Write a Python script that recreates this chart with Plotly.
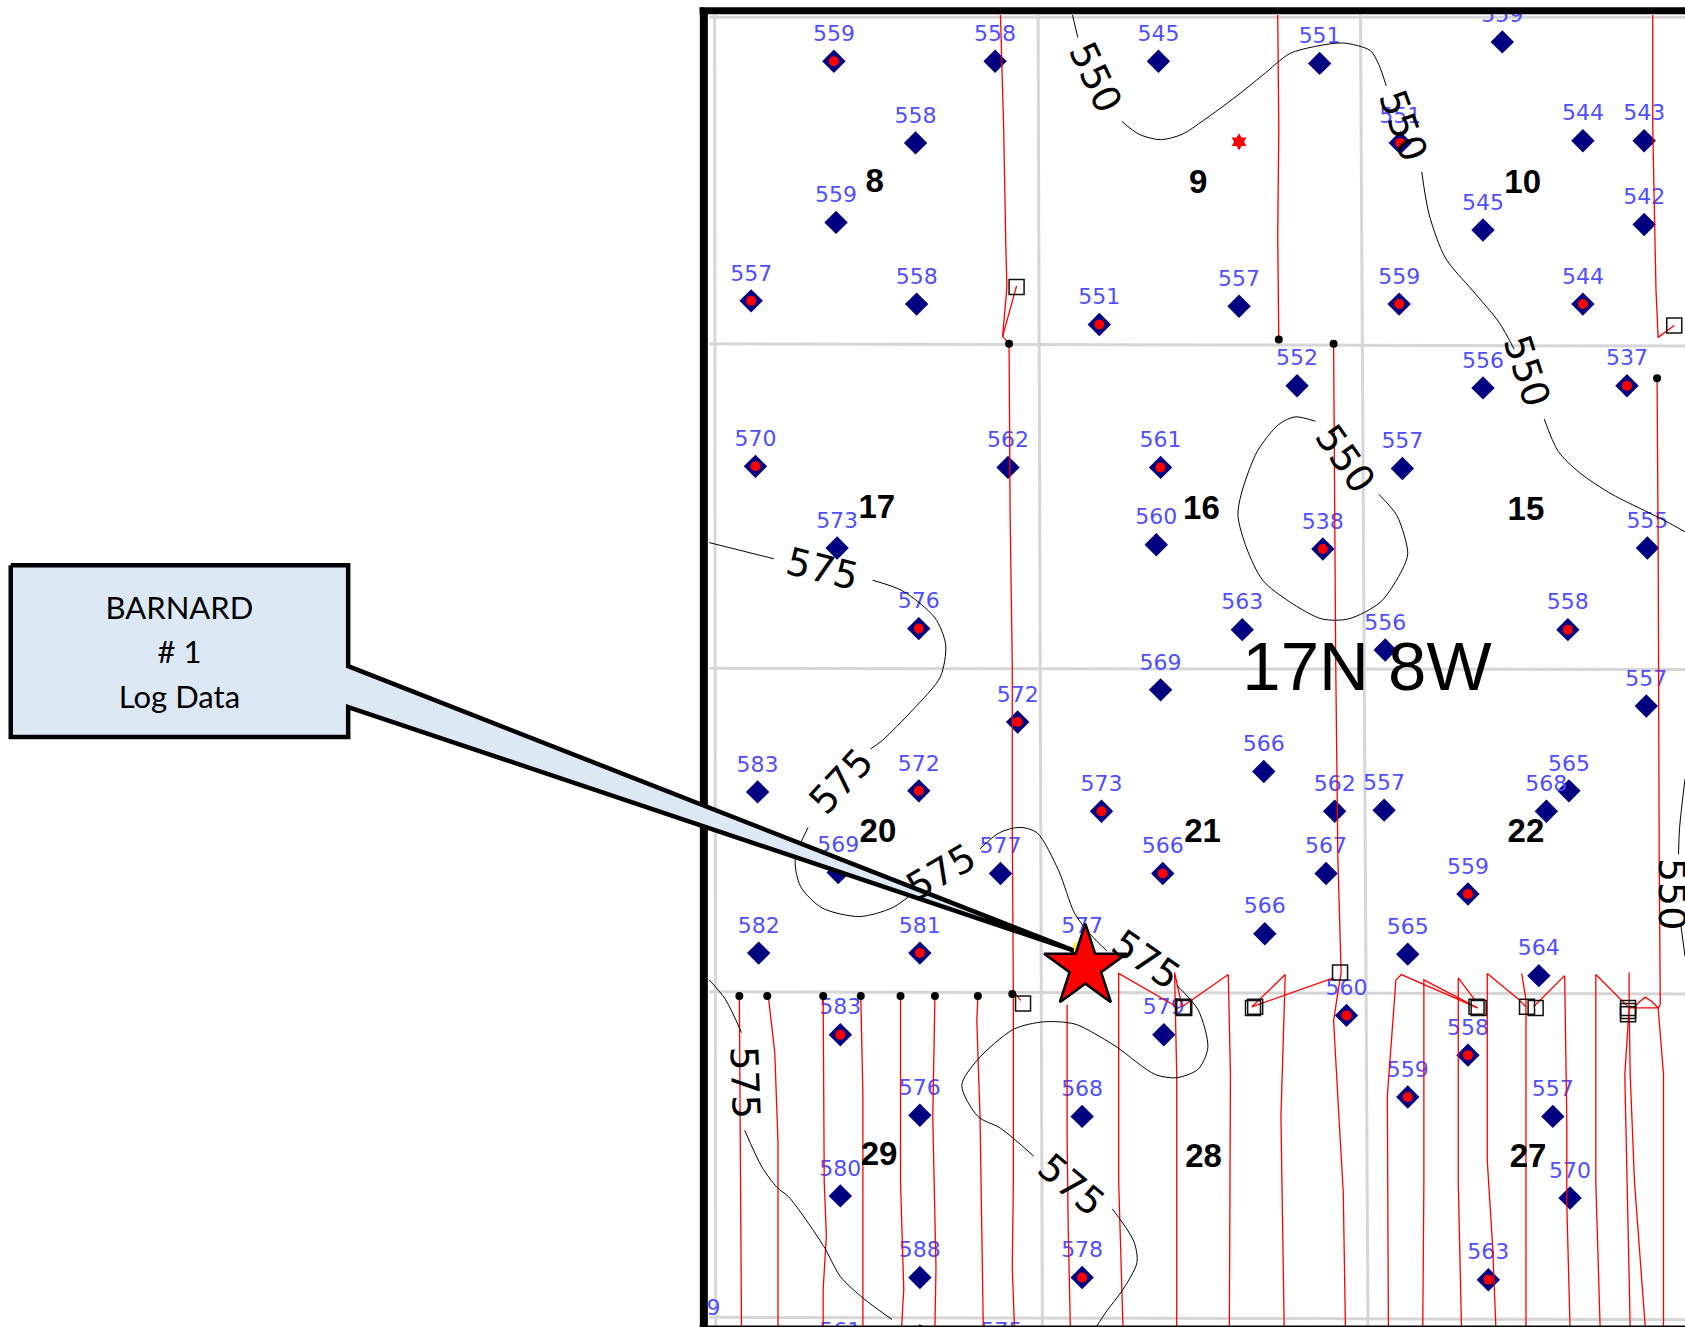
import plotly.graph_objects as go

# Wells: map position (in map units), label, and whether the well has a red centre
WELL_X = [776,926,1078,1228,1398,852,1303,1473,1530,778,1380,1530,699,853,1023,1153,1302,1473,1207,1380,1514,
          703,938,1080,1305,779,1076,1231,1533,855,1156,1289,1459,1080,1532,947,1176,705,855,1025,1242,1288,
          1439,1460,931,780,1082,1234,1366,1177,706,856,1007,1310,1432,782,1083,1253,1366,1310,856,1007,1445,
          782,1461,856,1007,1385,782,932]
WELL_Y = [57,57,57,59,39,133,133,131,131,207,214,209,280,283,302,285,283,283,359,361,359,
          434,435,435,436,510,507,511,510,585,586,605,586,642,657,672,718,737,736,755,755,754,
          755,736,813,812,813,813,832,869,887,887,887,888,908,963,963,945,982,1021,1038,1039,1039,
          1113,1115,1189,1189,1191,1264,1264]
WELL_VALUE = ["559","558","545","551","559","558","551","544","543","559","545","542","557","558","551","557","559","544","552","556","537",
              "570","562","561","557","573","560","538","555","576","563","556","558","569","557","572","566","583","572","573","562","557",
              "568","565","577","569","566","567","559","566","582","581","577","565","564","583","579","560","558","559","576","568","557",
              "580","570","588","578","563","561","575"]
WELL_SHOW = [1,0,0,0,0,0,1,0,0,0,0,0,1,0,1,0,1,1,0,0,1,
             1,0,1,0,0,0,1,0,1,0,0,1,0,0,1,0,0,1,1,0,0,
             0,0,0,0,1,0,1,0,0,1,0,0,0,1,0,1,1,1,0,0,0,
             0,0,0,1,1,0,0]

SECTION_X = [814,1115,1417,816,1118,1420,817,1119,1420,818,1120,1422]
SECTION_Y = [168,169,169,471,472,473,773,773,773,1074,1075,1075]
SECTION_NAME = ["8","9","10","17","16","15","20","21","22","29","28","27"]

GRID_LINES = [
    [(665,14),(666,1235)], [(966,14),(970,1235)], [(1266,14),(1273,1235)],
    [(660,16),(1568,16)], [(660,320),(1568,322)], [(660,622),(1568,623)],
    [(660,923),(1568,925)], [(660,1226),(1568,1228)],
]

RED_PATHS = [
    [(931,14),(934,120),(936,230),(937,267),(933,313),(939,320),(940,480),(942,620),(942,770),(943,925),(943,1100),(942,1180),(944,1235)],
    [(946,266),(933,313)], [(943,923),(950,931)],
    [(1189,14),(1190,120),(1189,220),(1190,316)],
    [(1241,320),(1243,620),(1245,800),(1248,905),(1244,930),(1241,950),(1246,1040),(1250,1110),(1252,1235)],
    [(1538,14),(1538,120),(1541,270),(1543,314),(1558,303)],
    [(1542,352),(1543,500),(1544,800),(1545,935)],
    [(688,927),(689,1100),(690,1235)], [(715,927),(721,980),(724,1064),(724,1235)],
    [(766,927),(767,1100),(769,1150),(766,1200),(766,1235)],
    [(801,927),(803,1020),(803,1235)], [(838,927),(838,1100),(841,1200),(839,1235)],
    [(870,927),(868,1040),(871,1180),(870,1235)],
    [(910,927),(909,950),(912,1040),(913,1120),(915,1235)],
    [(993,935),(993,1060),(994,1140),(996,1235)],
    [(1095,937),(1041,906),(1041,1100),(1045,1235)],
    [(1100,937),(1093,905),(1095,1000),(1095,1235)],
    [(1100,937),(1143,907),(1145,1000),(1144,1235)],
    [(1165,937),(1196,907),(1192,1040),(1195,1235)],
    [(1165,937),(1241,910)],
    [(1375,938),(1304,907),(1299,912),(1291,1020),(1292,1235)],
    [(1375,938),(1325,912),(1325,1100),(1324,1235)],
    [(1372,930),(1357,910),(1357,1100),(1360,1235)],
    [(1420,937),(1413,930),(1384,906),(1384,1080),(1389,1160),(1392,1235)],
    [(1416,906),(1420,930),(1420,1100),(1420,1235)],
    [(1427,937),(1456,908),(1458,1040),(1458,1120),(1461,1235)],
    [(1516,938),(1485,907),(1485,1100),(1489,1235)],
    [(1516,905),(1516,938),(1512,1000),(1517,1235)],
    [(1516,938),(1517,1000),(1521,1100),(1531,1235)],
    [(1516,938),(1543,938),(1545,935)],
    [(1520,938),(1526,932),(1531,928),(1537,932),(1543,938),(1548,1000),(1548,1235)],
]
DOT_X = [939,1190,1241,1542,688,714,766,801,838,870,910,942]
DOT_Y = [320,316,320,352,927,927,927,927,927,927,927,925]
BOX_X = [946,1558,952,1101,1102,1166,1168,1247,1374,1376,1421,1429,1515,1515,1515]
BOX_Y = [267,303,934,937,938,938,937,905,937,938,937,938,938,941,944]

CONTOURS = [
    [(998,14),(1003,35)],
    [(1044,113),(1060,125),(1080,130),(1100,125),(1120,112),(1150,90),(1175,70),(1200,50),(1225,43),(1250,40),(1275,47),(1283,60),(1290,80)],
    [(1323,160),(1330,200),(1345,240),(1370,270),(1395,300),(1409,325)],
    [(1437,390),(1450,420),(1470,440),(1500,460),(1530,475),(1550,485),(1568,495)],
    [(1224,392),(1205,388),(1190,395),(1170,420),(1155,460),(1152,480),(1160,510),(1175,540),(1200,560),(1230,576),(1255,576),(1285,560),(1305,530),(1310,515),(1300,480),(1283,460)],
    [(660,505),(720,520)],
    [(812,540),(840,550),(870,575),(880,600),(875,630),(850,660),(820,690),(810,697)],
    [(752,770),(740,800),(745,825),(765,845),(800,853),(830,845),(845,835)],
    [(912,790),(930,775),(949,770),(965,775),(985,810),(1000,850),(1015,870),(1030,885)],
    [(1095,917),(1115,940),(1124,975),(1115,995),(1095,1003),(1075,1000),(1040,975),(1024,965),(1000,953),(971,951),(943,958),(910,986),(895,1010),(910,1039),(931,1050),(962,1076)],
    [(1035,1125),(1055,1155),(1058,1175),(1045,1200),(1030,1220),(1020,1235)],
    [(660,912),(675,930),(690,961)],
    [(693,1052),(709,1086),(723,1105),(734,1114),(766,1159),(782,1188),(803,1208),(830,1228)],
    [(1568,725),(1563,770),(1562,795)],
    [(1564,860),(1568,890)],
]
CONTOUR_LABEL_X = [1019,1306,1421,1252,765,783,876,1067,997,693,1556]
CONTOUR_LABEL_Y = [72,117,345,427,530,727,812,893,1103,1008,832]
CONTOUR_LABEL_TEXT = ["550","550","550","550","575","575","575","575","575","575","550"]
CONTOUR_LABEL_ANGLE = [65,70,72,55,14,-47,-30,35,40,88,90]

CALLOUT_X = [10,324,324,1000,324,324,10,10]
CALLOUT_Y = [526,526,620,885,658,686,686,526]
CALLOUT_TEXT = ["BARNARD","# 1","Log Data"]
CALLOUT_TEXT_Y = [569,610,652]

TOWNSHIP = "17N 8W"
INK = "#000000"
NAVY = "#000080"
BLUE = "#4f4fff"
RED = "#ff0000"

fig = go.Figure()

def add_paths(paths, color, width, name, shape="linear", smoothing=1.0):
    xs, ys = [], []
    for p in paths:
        xs += [q[0] for q in p] + [None]
        ys += [q[1] for q in p] + [None]
    line = dict(color=color, width=width, shape=shape)
    if shape == "spline":
        line["smoothing"] = smoothing
    fig.add_trace(go.Scatter(x=xs, y=ys, mode="lines", name=name, line=line, hoverinfo="skip"))

add_paths(GRID_LINES, "#d6d6d6", 3, "sections")

fig.add_trace(go.Scatter(x=WELL_X, y=WELL_Y, mode="markers", name="wells",
                         marker=dict(symbol="diamond", size=18, color=NAVY)))
fig.add_trace(go.Scatter(x=WELL_X, y=[v - 24 for v in WELL_Y], mode="text", text=WELL_VALUE, name="values",
                         textfont=dict(family="DejaVu Sans", size=22, color=BLUE)))
fig.add_trace(go.Scatter(x=[x for x, s in zip(WELL_X, WELL_SHOW) if s], y=[y for y, s in zip(WELL_Y, WELL_SHOW) if s],
                         mode="markers", name="shows", marker=dict(symbol="circle", size=10, color=RED)))
fig.add_trace(go.Scatter(x=[664], y=[1219], mode="text", text=["9"], name="edge",
                         textfont=dict(family="DejaVu Sans", size=22, color=BLUE)))

add_paths(RED_PATHS, RED, 1.3, "paths")
fig.add_trace(go.Scatter(x=DOT_X, y=DOT_Y, mode="markers", name="heads", marker=dict(symbol="circle", size=8, color=INK)))
fig.add_trace(go.Scatter(x=BOX_X, y=BOX_Y, mode="markers", name="toes",
                         marker=dict(symbol="square-open", size=15, color="#111111", line=dict(width=1.5))))
fig.add_trace(go.Scatter(x=[1153], y=[132], mode="markers", name="spot",
                         marker=dict(symbol="hexagram", size=13, color=RED)))

add_paths(CONTOURS, INK, 1, "contours", shape="spline", smoothing=0.8)

fig.add_trace(go.Scatter(x=SECTION_X, y=[v + 3 for v in SECTION_Y], mode="text", text=SECTION_NAME, name="sections no",
                         textfont=dict(family="Liberation Sans", size=33, color=INK, weight="bold")))
fig.add_trace(go.Scatter(x=[1272], y=[626], mode="text", text=[TOWNSHIP], name="township",
                         textfont=dict(family="Liberation Sans", size=69, color=INK)))

fig.add_trace(go.Scatter(x=CALLOUT_X, y=CALLOUT_Y, mode="lines", fill="toself", fillcolor="#dde8f5", name="callout",
                         line=dict(color=INK, width=4.5), hoverinfo="skip"))
fig.add_trace(go.Scatter(x=[167, 167, 167], y=CALLOUT_TEXT_Y, mode="text", text=CALLOUT_TEXT, name="callout text",
                         textfont=dict(family="Lato", size=31, color=INK)))
fig.add_trace(go.Scatter(x=[1004], y=[882], mode="markers", name="spot2", marker=dict(symbol="square", size=10, color="#ffff00")))
fig.add_trace(go.Scatter(x=[1010], y=[900], mode="markers", name="well of interest",
                         marker=dict(symbol="star", size=62, color=RED, line=dict(color=INK, width=2.5))))

annotations = [dict(x=x, y=y, xref="x", yref="y", text=t, textangle=a, showarrow=False,
                    font=dict(family="DejaVu Sans", size=38, color=INK))
               for x, y, t, a in zip(CONTOUR_LABEL_X, CONTOUR_LABEL_Y, CONTOUR_LABEL_TEXT, CONTOUR_LABEL_ANGLE)]
annotations.append(dict(x=855, y=1222, xref="x", yref="y", text="5", textangle=30, showarrow=False, yanchor="top",
                        font=dict(family="DejaVu Sans", size=38, color=INK)))

shapes = [
    dict(type="rect", xref="x", yref="y", x0=655, x1=1568, y0=0, y1=13, fillcolor="#ffffff", line=dict(width=0), layer="above"),
    dict(type="line", xref="x", yref="y", x0=651, x1=1568, y0=10, y1=10, line=dict(color=INK, width=7), layer="above"),
    dict(type="line", xref="x", yref="y", x0=655, x1=655, y0=7, y1=1235, line=dict(color=INK, width=8), layer="below"),
    dict(type="line", xref="x", yref="y", x0=651, x1=1568, y0=1234.6, y1=1234.6, line=dict(color=INK, width=2), layer="above"),
]

fig.update_layout(
    width=1685, height=1327, margin=dict(l=0, r=0, t=0, b=0),
    paper_bgcolor="#ffffff", plot_bgcolor="#ffffff", showlegend=False,
    annotations=annotations, shapes=shapes,
    xaxis=dict(range=[0, 1568], visible=False, fixedrange=True),
    yaxis=dict(range=[1235, 0], visible=False, fixedrange=True),
)
fig.write_html("out.html", config=dict(displayModeBar=False), post_script="document.body.style.margin='0';")
